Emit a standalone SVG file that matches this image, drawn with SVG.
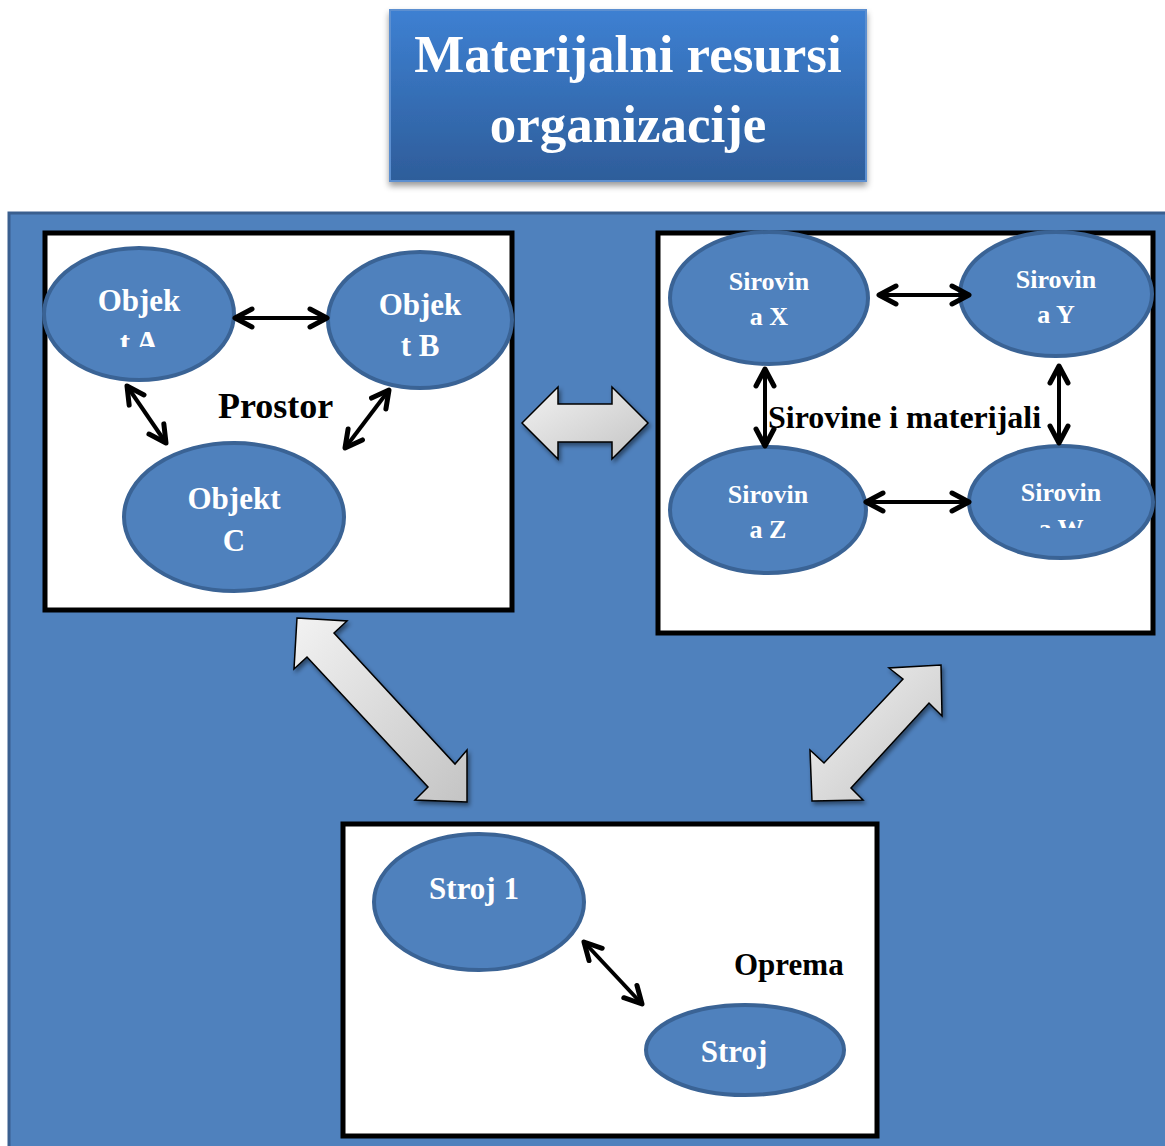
<svg xmlns="http://www.w3.org/2000/svg" width="1165" height="1146" viewBox="0 0 1165 1146">
<defs>
<style>
.box{fill:#ffffff;stroke:#000000;stroke-width:5}
.ell{fill:#4f81bd;stroke:#3a6395;stroke-width:4}
.wt{font-family:"Liberation Serif",serif;font-weight:bold;fill:#ffffff;text-anchor:middle}
.bt{font-family:"Liberation Serif",serif;font-weight:bold;fill:#000000}
.con{stroke:#000000;stroke-width:4;fill:none;marker-start:url(#head);marker-end:url(#head)}
.blk{fill:url(#gray);stroke:#000000;stroke-width:1.5;stroke-linejoin:miter;filter:url(#sh)}
</style>
<linearGradient id="title" x1="0" y1="0" x2="0" y2="1">
<stop offset="0" stop-color="#3d80d2"/>
<stop offset="1" stop-color="#2e5d9a"/>
</linearGradient>
<linearGradient id="gray" x1="0" y1="0" x2="1" y2="1">
<stop offset="0" stop-color="#f2f2f2"/>
<stop offset="1" stop-color="#c4c4c4"/>
</linearGradient>
<filter id="sh" x="-20%" y="-20%" width="140%" height="140%">
<feDropShadow dx="2" dy="3" stdDeviation="2" flood-color="#000000" flood-opacity="0.45"/>
</filter>
<filter id="tsh" x="-10%" y="-10%" width="120%" height="130%">
<feDropShadow dx="0" dy="4" stdDeviation="3" flood-color="#000000" flood-opacity="0.4"/>
</filter>
<marker id="head" markerUnits="userSpaceOnUse" viewBox="0 0 24 24" refX="20" refY="12" markerWidth="24" markerHeight="24" orient="auto-start-reverse">
<path d="M 3 3 L 20 12 L 3 21" fill="none" stroke="#000000" stroke-width="5" stroke-linecap="round" stroke-linejoin="round"/>
</marker>
<clipPath id="clipA"><rect x="40" y="240" width="200" height="107"/></clipPath>
<clipPath id="clipW"><rect x="965" y="440" width="200" height="88"/></clipPath>
</defs>

<g id="title-box">
<rect x="390" y="10" width="476" height="171" fill="url(#title)" stroke="#5b8fd0" stroke-width="2" filter="url(#tsh)"/>
<text class="wt" x="628" y="72" font-size="53">Materijalni resursi</text>
<text class="wt" x="628" y="142" font-size="53">organizacije</text>
</g>

<g id="panel">
<rect x="9" y="213" width="1170" height="950" fill="#4f81bd" stroke="#3a5f8f" stroke-width="3"/>
</g>

<g id="prostor">
<rect class="box" x="45" y="233" width="467" height="377"/>
<text class="bt" x="218" y="418" font-size="36">Prostor</text>
</g>
<g id="sirovine">
<rect class="box" x="658" y="233" width="495" height="400"/>
<text class="bt" x="768" y="428" font-size="32">Sirovine i materijali</text>
</g>
<g id="oprema">
<rect class="box" x="343" y="824" width="534" height="312"/>
<text class="bt" x="734" y="975" font-size="31">Oprema</text>
</g>

<g id="objekt-a">
<ellipse class="ell" cx="139" cy="314" rx="95" ry="66"/>
<text class="wt" x="139" y="311" font-size="31">Objek</text>
<text class="wt" x="139" y="353" font-size="31" clip-path="url(#clipA)">t A</text>
</g>
<g id="objekt-b">
<ellipse class="ell" cx="420" cy="320" rx="92" ry="68"/>
<text class="wt" x="420" y="315" font-size="31">Objek</text>
<text class="wt" x="420" y="356" font-size="31">t B</text>
</g>
<g id="objekt-c">
<ellipse class="ell" cx="234" cy="517" rx="110" ry="74"/>
<text class="wt" x="234" y="509" font-size="31">Objekt</text>
<text class="wt" x="234" y="551" font-size="31">C</text>
</g>

<g id="sirovina-x">
<ellipse class="ell" cx="769" cy="298" rx="99" ry="66"/>
<text class="wt" x="769" y="290" font-size="26">Sirovin</text>
<text class="wt" x="769" y="325" font-size="26">a X</text>
</g>
<g id="sirovina-y">
<ellipse class="ell" cx="1056" cy="294" rx="96" ry="62"/>
<text class="wt" x="1056" y="288" font-size="26">Sirovin</text>
<text class="wt" x="1056" y="323" font-size="26">a Y</text>
</g>
<g id="sirovina-z">
<ellipse class="ell" cx="768" cy="510" rx="98" ry="63"/>
<text class="wt" x="768" y="503" font-size="26">Sirovin</text>
<text class="wt" x="768" y="538" font-size="26">a Z</text>
</g>
<g id="sirovina-w">
<ellipse class="ell" cx="1061" cy="502" rx="92" ry="56"/>
<text class="wt" x="1061" y="501" font-size="26">Sirovin</text>
<text class="wt" x="1061" y="537" font-size="26" clip-path="url(#clipW)">a W</text>
</g>

<g id="stroj-1">
<ellipse class="ell" cx="479" cy="902" rx="105" ry="68"/>
<text class="wt" x="474" y="899" font-size="31">Stroj 1</text>
</g>
<g id="stroj">
<ellipse class="ell" cx="745" cy="1050" rx="99" ry="45"/>
<text class="wt" x="734" y="1062" font-size="31">Stroj</text>
</g>

<g id="connectors">
<line class="con" x1="235" y1="318" x2="327" y2="318"/>
<line class="con" x1="127" y1="386" x2="166" y2="443"/>
<line class="con" x1="389" y1="390" x2="345" y2="448"/>
<line class="con" x1="879" y1="295" x2="969" y2="295"/>
<line class="con" x1="765" y1="369" x2="765" y2="446"/>
<line class="con" x1="1059" y1="366" x2="1059" y2="443"/>
<line class="con" x1="866" y1="502" x2="969" y2="502"/>
<line class="con" x1="584" y1="942" x2="642" y2="1004"/>
<polygon class="blk" points="522,423 558,387 558,404 612,404 612,387 648,423 612,459 612,442 558,442 558,459"/>
<polygon class="blk" points="297,618 347,621 334,633 455,764 467,750 467,802 415,800 428,787 307,657 294,669"/>
<polygon class="blk" points="941,665 942,716 929,703 851,788 863,800 812,801 810,750 824,763 903,679 889,668"/>
</g>
</svg>
